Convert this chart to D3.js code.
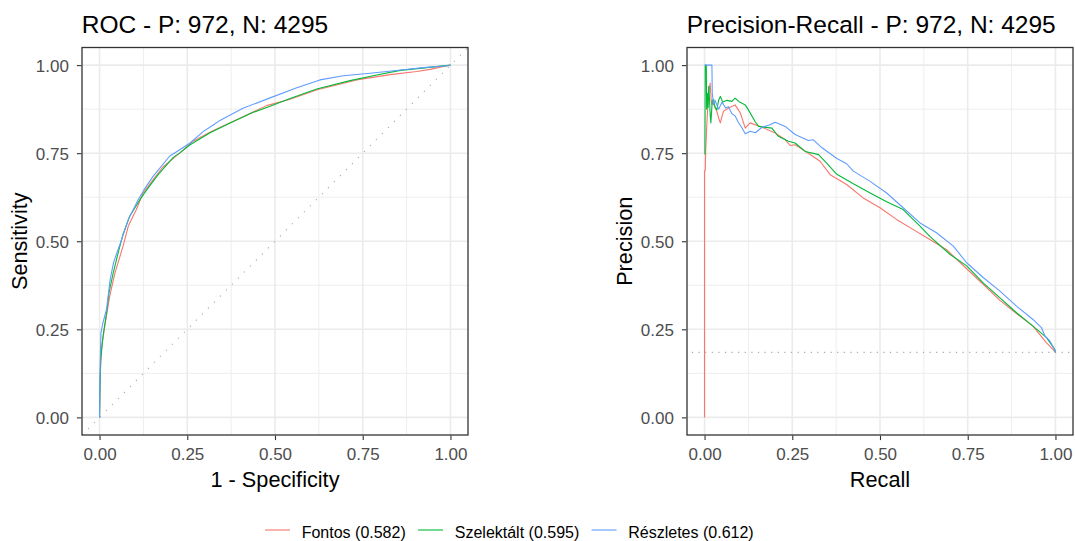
<!DOCTYPE html>
<html>
<head>
<meta charset="utf-8">
<script src="https://cdn.jsdelivr.net/npm/d3@7"></script>
<style>
  html, body { margin: 0; padding: 0; background: #ffffff; }
  svg { display: block; font-family: "Liberation Sans", Arial, sans-serif; }
</style>
</head>
<body>
<svg id="chart" width="1075" height="541"></svg>
<script>
// ---- data -------------------------------------------------------------
const positives = 972;
const negatives = 4295;

const seriesNames = ["Fontos", "Szelektált", "Részletes"];
const seriesScores = ["0.582", "0.595", "0.612"];
const seriesColors = ["#F8766D", "#00BA38", "#619CFF"];

const tickValues = [0, 0.25, 0.5, 0.75, 1];
const tickLabels = ["0.00", "0.25", "0.50", "0.75", "1.00"];
const minorTicks = [0.125, 0.375, 0.625, 0.875];

// ROC curves: [1 - specificity, sensitivity]
const rocFontos = [[0,0],[0.002,0.12],[0.006,0.2],[0.015,0.26],[0.029,0.344],[0.044,0.41],
  [0.067,0.486],[0.082,0.543],[0.105,0.59],[0.124,0.637],[0.153,0.675],[0.18,0.71],
  [0.229,0.751],[0.265,0.783],[0.32,0.812],[0.38,0.84],[0.476,0.885],[0.543,0.903],
  [0.62,0.93],[0.733,0.958],[0.828,0.973],[0.904,0.982],[0.942,0.988],[0.98,0.996],[1,1]];
const rocSzelektalt = [[0,0],[0.001,0.08],[0.003,0.16],[0.01,0.231],[0.02,0.297],[0.027,0.354],
  [0.039,0.41],[0.053,0.467],[0.067,0.52],[0.086,0.571],[0.115,0.618],[0.134,0.645],
  [0.167,0.689],[0.21,0.738],[0.229,0.751],[0.258,0.774],[0.315,0.808],[0.372,0.836],
  [0.438,0.866],[0.486,0.883],[0.543,0.905],[0.619,0.932],[0.714,0.956],[0.79,0.972],
  [0.857,0.985],[0.933,0.993],[1,1]];
const rocReszletes = [[0,0],[0.001,0.1],[0.002,0.165],[0.004,0.24],[0.01,0.27],[0.02,0.307],
  [0.03,0.39],[0.04,0.44],[0.063,0.505],[0.082,0.562],[0.11,0.618],[0.126,0.645],
  [0.153,0.685],[0.163,0.697],[0.2,0.742],[0.215,0.751],[0.258,0.779],[0.296,0.812],
  [0.324,0.83],[0.343,0.843],[0.41,0.878],[0.486,0.907],[0.56,0.935],[0.628,0.958],
  [0.695,0.97],[0.771,0.977],[0.866,0.987],[0.923,0.993],[0.997,0.999],[1,1]];

// Precision-recall curves: [recall, precision]
const prFontos = [[0,0],[0,0.7],[0.002,0.7],[0.003,0.75],[0.006,0.82],[0.009,0.88],[0.012,0.92],
  [0.016,0.949],[0.019,0.9],[0.021,0.887],[0.025,0.897],[0.03,0.88],[0.035,0.869],[0.04,0.85],
  [0.045,0.836],[0.05,0.855],[0.054,0.869],[0.068,0.878],[0.087,0.887],[0.095,0.875],
  [0.102,0.864],[0.116,0.821],[0.13,0.836],[0.158,0.826],[0.2,0.808],[0.23,0.788],
  [0.244,0.772],[0.258,0.774],[0.296,0.75],[0.329,0.727],[0.358,0.689],[0.405,0.661],
  [0.452,0.623],[0.5,0.595],[0.547,0.562],[0.595,0.533],[0.642,0.505],[0.69,0.476],
  [0.747,0.422],[0.794,0.378],[0.841,0.333],[0.889,0.295],[0.936,0.259],[0.974,0.212],
  [0.993,0.193],[1,0.1845]];
const prSzelektalt = [[0.001,0.746],[0.002,1],[0.005,1],[0.006,0.875],[0.008,0.92],[0.01,0.88],
  [0.012,0.94],[0.014,0.905],[0.016,0.86],[0.018,0.836],[0.022,0.9],[0.026,0.902],[0.03,0.88],
  [0.035,0.873],[0.04,0.9],[0.045,0.911],[0.052,0.895],[0.064,0.9],[0.078,0.897],
  [0.087,0.906],[0.1,0.895],[0.116,0.887],[0.125,0.873],[0.144,0.84],[0.154,0.826],
  [0.192,0.821],[0.21,0.798],[0.239,0.784],[0.258,0.779],[0.287,0.755],[0.325,0.746],
  [0.348,0.722],[0.377,0.69],[0.424,0.663],[0.472,0.637],[0.519,0.612],[0.566,0.59],
  [0.614,0.543],[0.642,0.514],[0.699,0.463],[0.747,0.43],[0.794,0.382],[0.841,0.34],
  [0.889,0.297],[0.936,0.259],[0.974,0.227],[0.998,0.193],[1,0.1845]];
const prReszletes = [[0,1],[0.021,1],[0.022,0.92],[0.026,0.887],[0.03,0.9],[0.04,0.875],
  [0.05,0.895],[0.06,0.878],[0.068,0.882],[0.078,0.862],[0.087,0.856],[0.096,0.838],
  [0.106,0.823],[0.116,0.805],[0.13,0.812],[0.145,0.808],[0.163,0.823],[0.185,0.83],
  [0.201,0.838],[0.215,0.832],[0.23,0.826],[0.258,0.803],[0.296,0.786],[0.31,0.788],
  [0.334,0.766],[0.377,0.735],[0.405,0.72],[0.424,0.699],[0.472,0.67],[0.519,0.637],
  [0.566,0.595],[0.614,0.552],[0.661,0.524],[0.709,0.486],[0.747,0.439],[0.794,0.397],
  [0.841,0.359],[0.889,0.316],[0.936,0.278],[0.96,0.255],[0.97,0.231],[0.984,0.217],
  [0.998,0.192],[1,0.1845]];

const rocCurves = [rocFontos, rocSzelektalt, rocReszletes];
const prCurves = [prFontos, prSzelektalt, prReszletes];

// ---- drawing ----------------------------------------------------------
const svg = d3.select("#chart");
const baseRate = positives / (positives + negatives);
const domain = [-0.05, 1.05];

const panels = [
  { id: "roc", left: 82, right: 468,
    title: `ROC - P: ${positives}, N: ${negatives}`,
    xTitle: "1 - Specificity", yTitle: "Sensitivity", curves: rocCurves },
  { id: "pr", left: 687, right: 1073,
    title: `Precision-Recall - P: ${positives}, N: ${negatives}`,
    xTitle: "Recall", yTitle: "Precision", curves: prCurves }
];
const panelTop = 47.5, panelBottom = 435;

panels.forEach(p => {
  const x = d3.scaleLinear().domain(domain).range([p.left, p.right]);
  const y = d3.scaleLinear().domain(domain).range([panelBottom, panelTop]);
  const g = svg.append("g");

  g.append("clipPath").attr("id", "clip-" + p.id)
    .append("rect").attr("x", p.left).attr("y", panelTop)
    .attr("width", p.right - p.left).attr("height", panelBottom - panelTop);

  // grid
  const grid = g.append("g");
  grid.selectAll(".vminor").data(minorTicks).join("line").attr("class", "vminor")
    .attr("x1", d => x(d)).attr("x2", d => x(d)).attr("y1", panelTop).attr("y2", panelBottom)
    .attr("stroke", "#EEEEEE").attr("stroke-width", 1);
  grid.selectAll(".hminor").data(minorTicks).join("line").attr("class", "hminor")
    .attr("y1", d => y(d)).attr("y2", d => y(d)).attr("x1", p.left).attr("x2", p.right)
    .attr("stroke", "#EEEEEE").attr("stroke-width", 1);
  grid.selectAll(".vmajor").data(tickValues).join("line").attr("class", "vmajor")
    .attr("x1", d => x(d)).attr("x2", d => x(d)).attr("y1", panelTop).attr("y2", panelBottom)
    .attr("stroke", "#EBEBEB").attr("stroke-width", 1.6);
  grid.selectAll(".hmajor").data(tickValues).join("line").attr("class", "hmajor")
    .attr("y1", d => y(d)).attr("y2", d => y(d)).attr("x1", p.left).attr("x2", p.right)
    .attr("stroke", "#EBEBEB").attr("stroke-width", 1.6);

  const plot = g.append("g").attr("clip-path", `url(#clip-${p.id})`);

  // chance reference line
  if (p.id === "roc") {
    plot.append("line")
      .attr("x1", x(-0.05)).attr("y1", y(-0.05)).attr("x2", x(1.05)).attr("y2", y(1.05))
      .attr("stroke", "#AAAAAA").attr("stroke-width", 1.1).attr("stroke-dasharray", "1.2,7.3");
  } else {
    plot.append("line")
      .attr("x1", x(-0.036)).attr("y1", y(baseRate)).attr("x2", x(1.05)).attr("y2", y(baseRate))
      .attr("stroke", "#AAAAAA").attr("stroke-width", 1.1).attr("stroke-dasharray", "1.2,5.4");
  }

  const line = d3.line().x(d => x(d[0])).y(d => y(d[1]));
  p.curves.forEach((c, i) => {
    plot.append("path").datum(c).attr("d", line)
      .attr("fill", "none").attr("stroke", seriesColors[i])
      .attr("stroke-width", 1.1).attr("stroke-linejoin", "round");
  });

  // border
  g.append("rect").attr("x", p.left).attr("y", panelTop)
    .attr("width", p.right - p.left).attr("height", panelBottom - panelTop)
    .attr("fill", "none").attr("stroke", "#333333").attr("stroke-width", 1.3);

  // axes
  const xAxis = d3.axisBottom(x).tickValues(tickValues)
    .tickFormat((d, i) => tickLabels[i]).tickSizeInner(4.5).tickSizeOuter(0).tickPadding(3);
  const yAxis = d3.axisLeft(y).tickValues(tickValues)
    .tickFormat((d, i) => tickLabels[i]).tickSizeInner(4.5).tickSizeOuter(0).tickPadding(3);

  const gx = g.append("g").attr("transform", `translate(0,${panelBottom + 0.6})`).call(xAxis);
  const gy = g.append("g").attr("transform", `translate(${p.left - 0.6},0)`).call(yAxis);
  [gx, gy].forEach(a => {
    a.select(".domain").remove();
    a.selectAll(".tick line").attr("stroke", "#333333").attr("stroke-width", 1.1);
    a.selectAll(".tick text").attr("fill", "#4D4D4D")
      .style("font-size", "17px").style("font-family", '"Liberation Sans", Arial, sans-serif');
  });
  gx.selectAll(".tick text").attr("y", 12).attr("dy", "0.71em");
  gy.selectAll(".tick text").attr("x", -12.5).attr("dy", "0.36em");

  // titles
  g.append("text").attr("x", p.left - 0.3).attr("y", 33.3)
    .attr("font-size", "24.5px").attr("fill", "#000").text(p.title);
  g.append("text").attr("x", (p.left + p.right) / 2).attr("y", 487)
    .attr("text-anchor", "middle").attr("font-size", "21.7px").attr("fill", "#000")
    .text(p.xTitle);
  g.append("text")
    .attr("transform", `translate(${p.left - 55},${(panelTop + panelBottom) / 2}) rotate(-90)`)
    .attr("text-anchor", "middle").attr("font-size", "21.7px").attr("fill", "#000")
    .text(p.yTitle);
});

// legend
const legend = svg.append("g");
let lx = 265;
const ly = 530;
seriesNames.forEach((name, i) => {
  legend.append("line").attr("x1", lx).attr("x2", lx + 25).attr("y1", ly).attr("y2", ly)
    .attr("stroke", seriesColors[i]).attr("stroke-width", 1.1);
  const t = legend.append("text").attr("x", lx + 36.7).attr("y", ly + 7.8)
    .attr("font-size", "16px").attr("fill", "#000")
    .text(`${name} (${seriesScores[i]})`);
  lx = lx + 36.7 + t.node().getComputedTextLength() + 12.3;
});
</script>
</body>
</html>
